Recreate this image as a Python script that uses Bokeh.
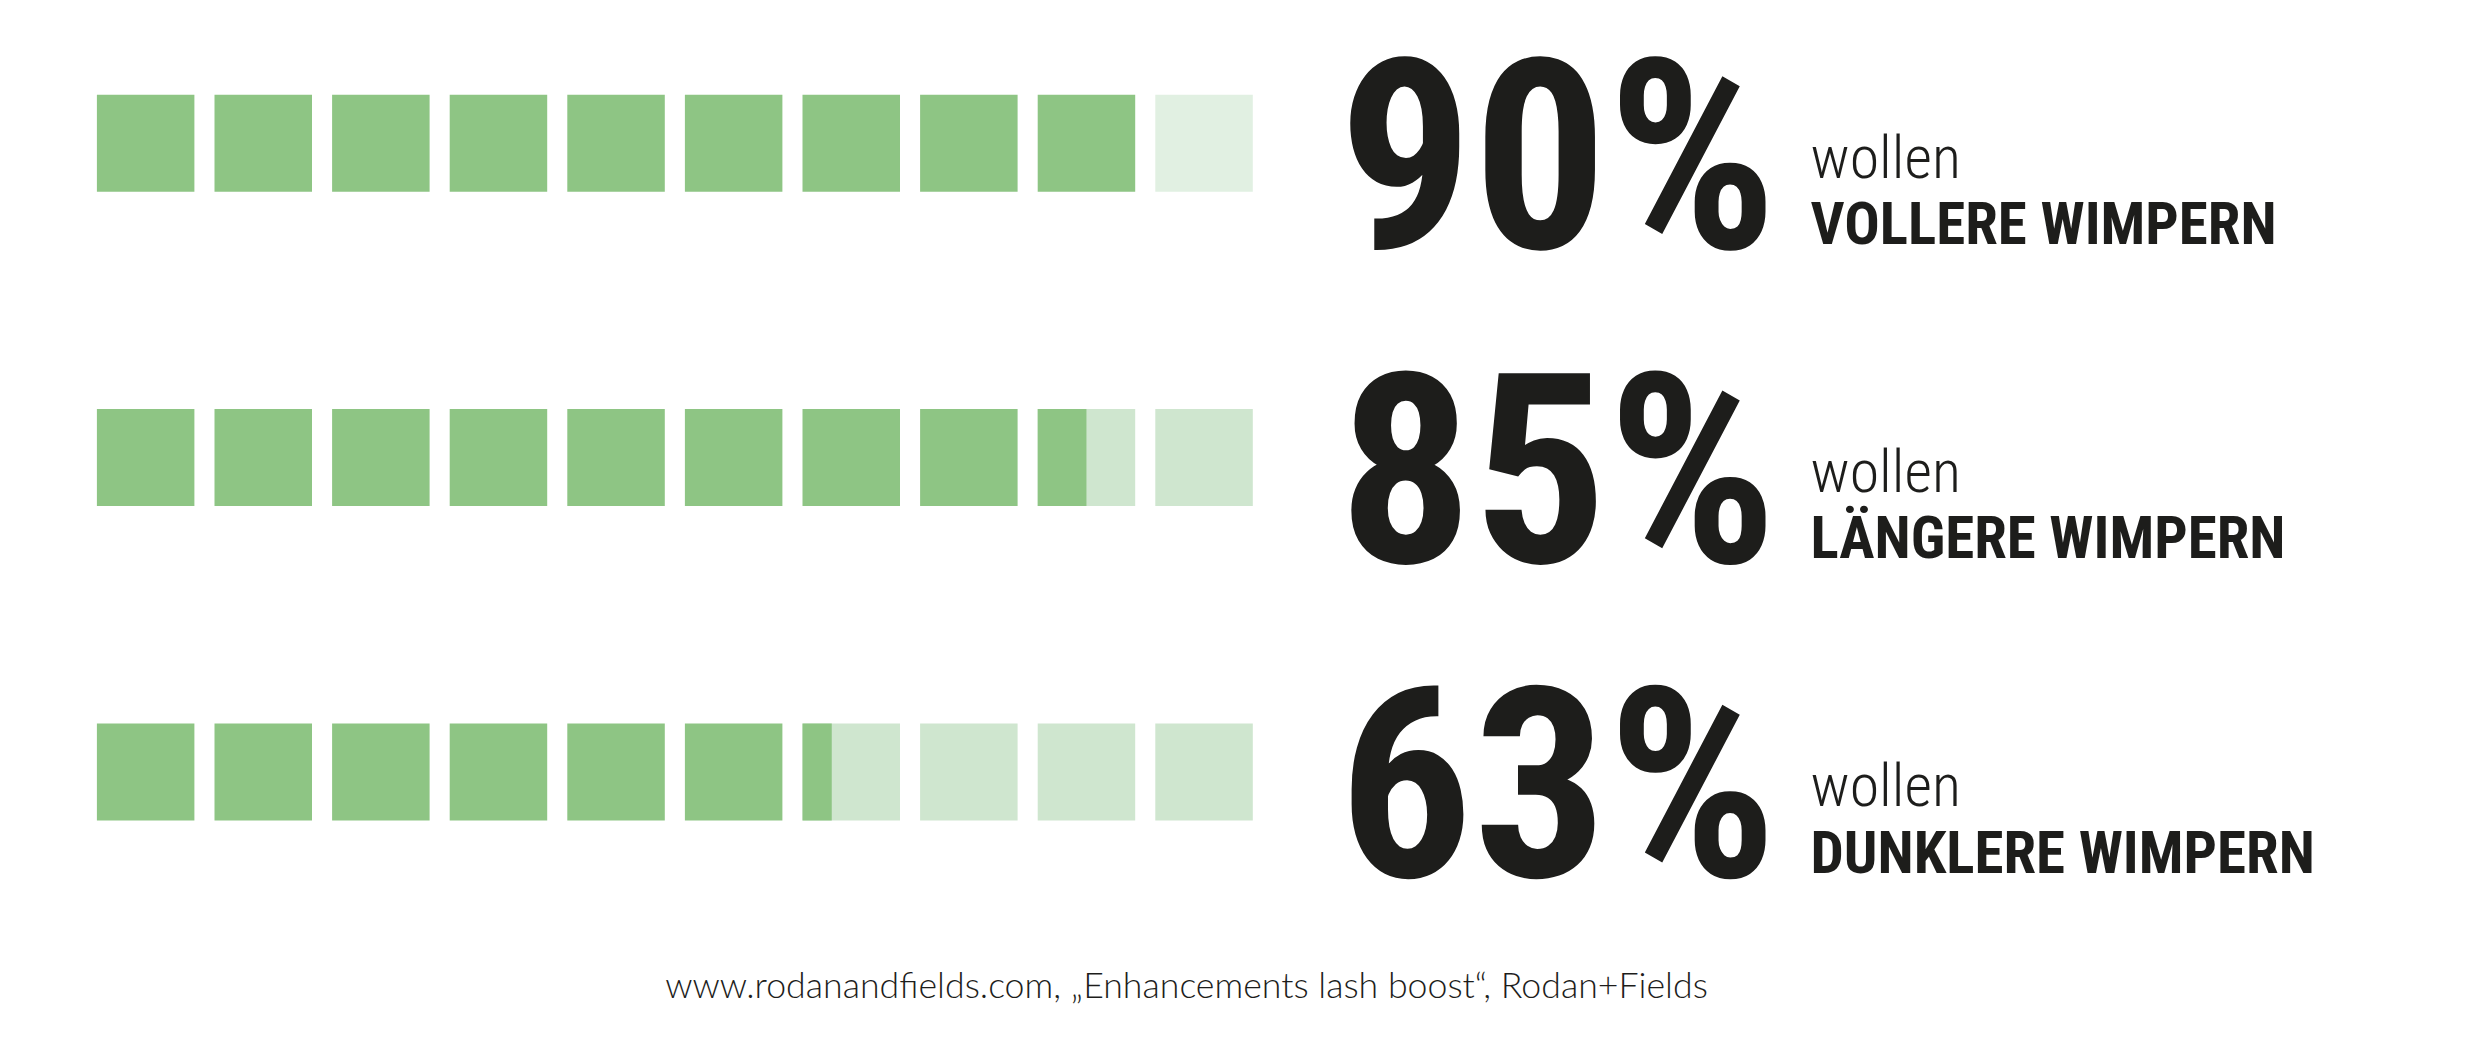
from bokeh.plotting import figure
from bokeh.models import Range1d, ColumnDataSource
from bokeh.core.properties import value
from bokeh.embed import file_html
from bokeh.resources import INLINE

# ---- data ----
percentages = [90, 85, 63]
pct_labels = ["90%", "85%", "63%"]
verbs = ["wollen", "wollen", "wollen"]
categories = ["VOLLERE WIMPERN", "LÄNGERE WIMPERN", "DUNKLERE WIMPERN"]
n_squares = 10
source_note = "www.rodanandfields.com, \u201eEnhancements lash boost\u201c, Rodan+Fields"

# ---- layout / style ----
W, H = 2464, 1034
X0, SIZE_X, SIZE_Y, STEP = 96.4, 97.5, 97.0, 117.6
ROW0, ROW_STEP = 94.3, 314.3
GREEN = "#8ec584"
EMPTY = ["#e1f0e2", "#cfe6cf", "#cfe6cf"]
DARK = "#1d1d1b"
BIG_FONT = "Roboto Condensed, Liberation Sans Narrow, DejaVu Sans Condensed"
LAB_FONT = "Roboto Condensed, Liberation Sans Narrow, DejaVu Sans Condensed"
THIN_FONT = "Roboto Condensed Light, Roboto Condensed, DejaVu Sans Condensed"
NOTE_FONT = "Lato Light, Lato, Open Sans"
SHIFT = 0.36  # compensation of the renderer's baseline offset, in em

p = figure(width=W, height=H, x_range=Range1d(0, W), y_range=Range1d(H, 0),
           output_backend="svg", toolbar_location=None, min_border=0,
           background_fill_color="white", border_fill_color="white")
p.axis.visible = False
p.grid.visible = False
p.outline_line_color = None

# squares
bg = dict(l=[], r=[], t=[], b=[], c=[])
fg = dict(l=[], r=[], t=[], b=[])
for ri, pct in enumerate(percentages):
    top = ROW0 + ri * ROW_STEP
    for i in range(n_squares):
        left = X0 + i * STEP
        frac = min(max(pct / 10.0 - i, 0.0), 1.0)
        if frac < 1.0:
            bg["l"].append(left); bg["r"].append(left + SIZE_X)
            bg["t"].append(top); bg["b"].append(top + SIZE_Y); bg["c"].append(EMPTY[ri])
        if frac > 0.0:
            fg["l"].append(left); fg["r"].append(left + SIZE_X * frac)
            fg["t"].append(top); fg["b"].append(top + SIZE_Y)

p.quad(left="l", right="r", top="t", bottom="b", fill_color="c", line_color=None,
       source=ColumnDataSource(bg))
p.quad(left="l", right="r", top="t", bottom="b", fill_color=GREEN, line_color=None,
       source=ColumnDataSource(fg))

tops = [ROW0 + i * ROW_STEP for i in range(len(percentages))]


def label(xs, ys, texts, font, style, size, align="left"):
    p.text(x=xs, y=[y - SHIFT * size for y in ys], text=texts,
           text_font=value(font), text_font_style=style, text_font_size=f"{size}px",
           text_color=DARK, text_baseline="alphabetic", text_align=align)


label([1338] * 3, [t + 158 for t in tops], pct_labels, BIG_FONT, "bold", 266)
label([1810] * 3, [t + 84 for t in tops], verbs, THIN_FONT, "normal", 60)
label([1810] * 3, [t + 150 for t in tops], categories, LAB_FONT, "bold", 59)
label([1186], [997], [source_note], NOTE_FONT, "normal", 35.7, align="center")

open("out.html", "w").write(file_html(p, INLINE))
